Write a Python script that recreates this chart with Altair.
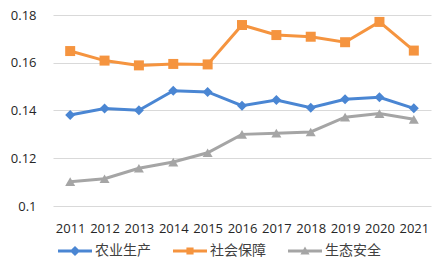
import altair as alt
import pandas as pd

years = ["2011", "2012", "2013", "2014", "2015", "2016", "2017", "2018", "2019", "2020", "2021"]
series_names = ["农业生产", "社会保障", "生态安全"]
agri = [0.1381, 0.1408, 0.1401, 0.1483, 0.1478, 0.1420, 0.1444, 0.1412, 0.1447, 0.1455, 0.1409]
social = [0.1649, 0.1609, 0.1589, 0.1595, 0.1593, 0.1758, 0.1716, 0.1709, 0.1686, 0.1771, 0.1651]
eco = [0.1102, 0.1114, 0.1158, 0.1184, 0.1223, 0.1300, 0.1305, 0.1310, 0.1372, 0.1387, 0.1363]
y_ticks = [0.10, 0.12, 0.14, 0.16, 0.18]

colors = ["#4A86D3", "#F5943F", "#A5A5A5"]
point_shapes = ["diamond", "square", "triangle-up"]
line_path = "M-1,-0.09L1,-0.09L1,0.09L-1,0.09Z"
legend_shapes = [
    line_path + "M0,-0.3L0.3,0L0,0.3L-0.3,0Z",
    line_path + "M-0.21,-0.21L0.21,-0.21L0.21,0.21L-0.21,0.21Z",
    line_path + "M0,-0.26L0.27,0.2L-0.27,0.2Z",
]

rows = []
for name, vals in zip(series_names, [agri, social, eco]):
    for yr, v in zip(years, vals):
        rows.append({"year": yr, "series": name, "value": v})
df = pd.DataFrame(rows)

x_enc = alt.X("year:O", sort=years, scale=alt.Scale(type="point", padding=0.5),
              axis=alt.Axis(title=None, labelAngle=0, domain=False, ticks=False, grid=False,
                            labelPadding=16, labelFont="Open Sans", labelFontSize=13,
                            labelColor="#262626"))
y_enc = alt.Y("value:Q", scale=alt.Scale(domain=[0.1, 0.18], zero=False, nice=False),
              axis=alt.Axis(title=None, values=y_ticks, format=".2~f", domain=False, ticks=False,
                            grid=True, gridColor="#D9D9D9", gridWidth=1, labelPadding=17,
                            labelFont="Open Sans", labelFontSize=13, labelColor="#262626"))
color_scale = alt.Scale(domain=series_names, range=colors)

base = alt.Chart(df)

lines = base.mark_line(strokeWidth=3).encode(
    x=x_enc, y=y_enc,
    color=alt.Color("series:N", scale=color_scale, legend=None),
)

points = base.mark_point(filled=True, opacity=1, size=100).encode(
    x=x_enc, y=y_enc,
    color=alt.Color("series:N", scale=color_scale, legend=None),
    shape=alt.Shape("series:N", scale=alt.Scale(domain=series_names, range=point_shapes), legend=None),
)

legend = alt.Legend(title=None, orient="none", direction="horizontal", columns=3,
                    legendX=5, legendY=219, symbolSize=1156, symbolStrokeWidth=0,
                    symbolOpacity=1, labelOffset=3, columnPadding=22,
                    labelFont="Noto Sans CJK SC", labelFontSize=14, labelColor="#404040")

legend_layer = base.transform_filter("false").mark_point(filled=True, opacity=1).encode(
    color=alt.Color("series:N", scale=color_scale, legend=legend),
    shape=alt.Shape("series:N", scale=alt.Scale(domain=series_names, range=legend_shapes), legend=legend),
)

chart = alt.layer(lines, points, legend_layer).resolve_scale(
    color="independent", shape="independent"
).properties(
    width=378, height=191,
    autosize=alt.AutoSizeParams(type="none"),
    padding={"left": 53, "top": 15, "right": 6, "bottom": 61},
).configure_view(stroke=None)

chart.save("out.html", embed_options={"renderer": "svg", "actions": False})
